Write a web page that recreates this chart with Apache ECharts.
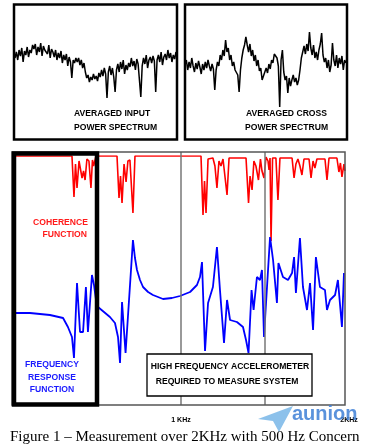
<!DOCTYPE html>
<html>
<head>
<meta charset="utf-8">
<script src="https://cdn.jsdelivr.net/npm/echarts@6/dist/echarts.min.js"></script>
<style>html,body{margin:0;padding:0;background:#fff;}#c{width:368px;height:445px;}</style>
</head>
<body>
<div id="c"></div>
<script>
// Averaged input power spectrum (relative attenuation, larger = lower on plot)
const inputLevel = [58,52,60,50,56,48,62,51,55,47,57,50,53,45,
  49,44,55,47,52,43,56,46,50,48,54,45,58,49,
  52,57,50,60,53,58,51,63,55,60,54,66,57,62,
  78,
  60,63,58,62,58,65,60,68,63,
  72,78,75,82,77,80,74,79,76,81,73,77,
  70,76,68,74,
  98,
  72,66,75,68,77,
  92,
  70,64,72,62,69,60,74,65,70,63,67,58,66,61,70,59,64,62,
  97,
  66,58,64,55,68,60,57,63,56,61,
  92,
  60,55,62,52,65,57,54,60,50,58,53,62,55,59,52];
// Averaged cross power spectrum
const crossLevel = [65,60,70,62,68,58,66,72,63,69,61,67,74,64,70,62,68,60,66,71,64,69,
  90,
  70,62,66,55,60,50,56,
  40,
  52,48,60,55,66,62,70,68,75,
  92,
  70,58,50,45,
  37,
  45,52,44,56,50,61,55,66,60,71,68,
  80,76,
  76,68,73,64,69,60,63,54,52,
  58,66,
  107,
  60,50,
  72,80,76,93,78,86,80,75,82,78,85,80,
  70,58,56,46,54,44,51,
  32,
  48,55,45,58,52,60,50,44,
  33,
  55,62,58,68,60,72,65,
  43,
  60,66,55,68,58,64,56,70,60,63];

// Coherence function (frequency Hz, coherence 0..1)
const cohFreq = [0,351,363,372,381,393,411,420,429,440,452,464,473,480,494,
  619,631,640,649,661,673,684,696,714,726,
  1119,1131,1140,1149,1161,1190,1202,1214,1226,1238,1250,1274,1286,
  1387,1402,1411,1423,1434,1446,1461,1473,1482,1494,1506,1518,1524,1530,1536,1545,
  1565,1577,1589,1661,1673,1684,1696,1708,1720,1732,1762,1774,1786,1797,1809,
  1857,1869,1881,1928,1940,1949,1958,1970,1976];
const cohVal = [1,1,0.59,0.92,0.68,0.95,0.78,0.85,0.76,0.97,0.95,0.68,0.96,0.9,1,
  1,0.58,0.8,0.53,0.92,0.74,0.95,0.96,0.43,1,
  1,0.41,0.75,0.43,0.97,0.98,0.9,0.68,0.95,0.9,0.97,0.61,0.98,
  0.98,0.53,0.8,0.66,0.95,0.9,0.76,0.97,0.85,0.78,0.99,0.95,0.86,0.98,0.15,0.98,
  0.98,0.56,0.98,0.98,0.78,0.92,0.97,0.9,0.81,0.97,0.97,0.78,0.95,0.88,0.97,
  0.97,0.76,0.98,0.98,0.84,0.93,0.79,0.92,0.85];

// Frequency response function (frequency Hz, magnitude dB)
const frfFreq = [12,101,220,298,327,351,363,381,399,417,434,446,470,482,494,
  506,577,607,625,637,649,670,714,726,738,756,774,804,833,893,946,994,1054,1095,1113,1125,
  1143,1161,1190,1214,1232,1256,1274,1292,1333,1369,1387,1402,1420,1432,1452,1470,1482,1494,
  1530,1548,1571,1580,1607,1637,1661,1673,1684,1708,1726,1750,1768,1786,1803,1827,1857,1869,
  1887,1917,1934,1958,1970];
const frfVal = [-41.5,-41.5,-42.5,-44,-48.5,-53.5,-64,-26.5,-51,-51,-28.5,-51,-22.5,-27.5,-35,
  -38.5,-43.5,-46.5,-53.5,-66.5,-36,-61.5,-5,-14,-20,-25,-28.5,-31,-32.5,-34.5,-34,-33,-31,-27.5,-23.5,-16,
  -60.5,-36.5,-28.5,-8.5,-30,-56.5,-35,-45,-46,-48.5,-55,-61.5,-30,-40,-23.5,-25,-20,-53.5,
  -3.5,-15,-36.5,-16.5,-23.5,-25,-21.5,-13.5,-31.5,-4,-28.5,-40,-26.5,-50,-13.5,-28.5,-30,-40,
  -35,-32.5,-25,-48.5,-21.5];

const markerFreqs = [1000, 1500];
const tickLabels = {1000: '1 KHz', 2000: '2KHz'};

const chart = echarts.init(document.getElementById('c'), null, {renderer: 'canvas'});
const idx = inputLevel.map((_, i) => i);
const idx2 = crossLevel.map((_, i) => i);
const hidden = {show: false};
const sans = '"Liberation Sans", Arial, sans-serif';

function txt(text, x, y, color, size, align) {
  return {type: 'text', x: x, y: y, z: 120,
    style: {text: text, fill: color, font: 'bold ' + size + 'px ' + sans,
      align: align || 'left', verticalAlign: 'middle'}};
}

chart.setOption({
  animation: false,
  backgroundColor: '#fff',
  grid: [
    {left: 15, top: 4, width: 161, height: 136},
    {left: 185, top: 4, width: 161, height: 136},
    {left: 13, top: 156, width: 336, height: 100},
    {left: 13, top: 230, width: 336, height: 140},
    {left: 13, top: 152, width: 336, height: 253}
  ],
  xAxis: [
    {gridIndex: 0, type: 'category', boundaryGap: false, data: idx, show: false},
    {gridIndex: 1, type: 'category', boundaryGap: false, data: idx2, show: false},
    {gridIndex: 2, type: 'value', min: 0, max: 2000, show: false},
    {gridIndex: 3, type: 'value', min: 0, max: 2000, show: false},
    {gridIndex: 4, type: 'value', min: 0, max: 2000, interval: 500,
      axisLine: hidden, axisTick: hidden, splitLine: hidden,
      axisLabel: {show: true, margin: 12, showMaxLabel: true, showMinLabel: false,
        fontFamily: sans, fontWeight: 'bold', fontSize: 7, color: '#000',
        formatter: v => tickLabels[v] || ''}}
  ],
  yAxis: [
    {gridIndex: 0, type: 'value', min: 4, max: 140, inverse: true, show: false},
    {gridIndex: 1, type: 'value', min: 4, max: 140, inverse: true, show: false},
    {gridIndex: 2, type: 'value', min: 0, max: 1, show: false},
    {gridIndex: 3, type: 'value', min: -70, max: 0, show: false},
    {gridIndex: 4, type: 'value', min: 0, max: 1, show: false}
  ],
  series: [
    {type: 'line', xAxisIndex: 0, yAxisIndex: 0, data: inputLevel, symbol: 'none',
      lineStyle: {color: '#000', width: 1.5}},
    {type: 'line', xAxisIndex: 1, yAxisIndex: 1, data: crossLevel, symbol: 'none',
      lineStyle: {color: '#000', width: 1.5}},
    {type: 'line', xAxisIndex: 4, yAxisIndex: 4, data: [], symbol: 'none',
      markLine: {silent: true, symbol: 'none', label: hidden,
        lineStyle: {color: '#777', width: 1.5, type: 'solid'},
        data: markerFreqs.map(f => ({xAxis: f}))}},
    {type: 'line', xAxisIndex: 2, yAxisIndex: 2, data: cohFreq.map((f, i) => [f, cohVal[i]]),
      symbol: 'none', lineStyle: {color: '#ff0000', width: 1.6}, z: 3},
    {type: 'line', xAxisIndex: 3, yAxisIndex: 3, data: frfFreq.map((f, i) => [f, frfVal[i]]),
      symbol: 'none', lineStyle: {color: '#0000ff', width: 1.8}, z: 4}
  ],
  graphic: [
    {type: 'rect', z: 100, shape: {x: 14, y: 4.5, width: 163, height: 135},
      style: {fill: 'none', stroke: '#000', lineWidth: 2.5}},
    {type: 'rect', z: 100, shape: {x: 185, y: 4.5, width: 162, height: 135},
      style: {fill: 'none', stroke: '#000', lineWidth: 2.5}},
    {type: 'rect', z: 100, shape: {x: 12, y: 152, width: 333, height: 253},
      style: {fill: 'none', stroke: '#555', lineWidth: 1.5}},
    {type: 'rect', z: 105, shape: {x: 14, y: 153.5, width: 83, height: 251},
      style: {fill: 'none', stroke: '#000', lineWidth: 4.5}},
    {type: 'rect', z: 105, shape: {x: 147, y: 354, width: 165, height: 42},
      style: {fill: '#fff', stroke: '#000', lineWidth: 1.3}},
    txt('AVERAGED INPUT', 74, 113.5, '#000', 8.6),
    txt('POWER SPECTRUM', 74, 127.5, '#000', 8.6),
    txt('AVERAGED CROSS', 246, 113.5, '#000', 8.6),
    txt('POWER SPECTRUM', 245, 127.5, '#000', 8.6),
    txt('COHERENCE', 88, 222.5, '#ff1a1a', 8.6, 'right'),
    txt('FUNCTION', 87, 235, '#ff1a1a', 8.6, 'right'),
    txt('FREQUENCY', 52, 365, '#1a1aff', 8.6, 'center'),
    txt('RESPONSE', 52, 378, '#1a1aff', 8.6, 'center'),
    txt('FUNCTION', 52, 390, '#1a1aff', 8.6, 'center'),
    txt('HIGH FREQUENCY ACCELEROMETER', 230, 367, '#000', 8.6, 'center'),
    txt('REQUIRED TO MEASURE SYSTEM', 227, 382, '#000', 8.6, 'center'),
    {type: 'text', x: 10, y: 437, z: 120,
      style: {text: 'Figure 1 \u2013 Measurement over 2KHz with 500 Hz Concern', fill: '#000',
        font: '15px "Liberation Serif", "Times New Roman", serif', align: 'left', verticalAlign: 'middle'}},
    {type: 'polygon', z: 130, shape: {points: [[258, 419], [293, 406], [279, 432], [273, 421]]},
      style: {fill: '#6fb2e6', opacity: 0.8}},
    {type: 'text', x: 292, y: 414, z: 130,
      style: {text: 'aunion', fill: '#3d7fd6', opacity: 0.85,
        font: 'bold 20px ' + sans, align: 'left', verticalAlign: 'middle'}}
  ]
});
</script>
</body>
</html>
